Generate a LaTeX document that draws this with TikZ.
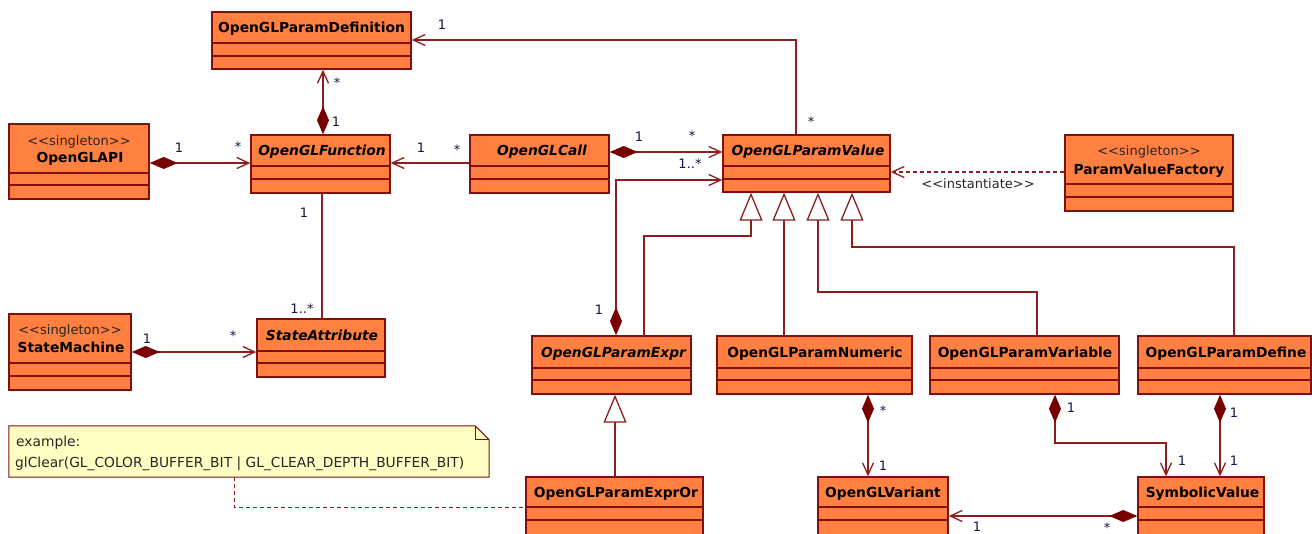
\documentclass[tikz,border=0pt]{standalone}
\usepackage{fontspec}
\setmainfont{DejaVu Sans}
\usetikzlibrary{arrows.meta,fit}

\definecolor{boxfill}{RGB}{255,128,64}
\definecolor{boxline}{RGB}{128,16,16}
\definecolor{wirec}{RGB}{140,30,30}
\definecolor{solidc}{RGB}{120,0,0}
\definecolor{notefill}{RGB}{255,255,196}
\definecolor{multc}{RGB}{20,20,70}

% guillemet-free stereotype brackets
\newcommand\lguil{\textless\kern0pt\textless}
\newcommand\rguil{\textgreater\kern0pt\textgreater}

\tikzset{
  classbox/.style={draw=boxline, fill=boxfill, line width=1.4pt, inner sep=0pt},
  sepline/.style={draw=boxline, line width=1.2pt},
  cname/.style={anchor=base, inner sep=0pt, font=\fontsize{13.8}{16}\selectfont\bfseries},
  aname/.style={anchor=base, inner sep=0pt, font=\fontsize{13.8}{16}\selectfont\bfseries\itshape},
  stereo/.style={anchor=base, inner sep=0pt, font=\fontsize{13}{15}\selectfont, text=black!85},
  mult/.style={anchor=base, inner sep=0pt, font=\fontsize{13}{15}\selectfont, text=multc},
  notetext/.style={anchor=base west, inner sep=0pt, font=\fontsize{13.8}{15}\selectfont, text=black!85},
  wire/.style={draw=wirec, line width=1.3pt},
  nav/.style={wire, -{Straight Barb[length=12pt,width=11pt]}},
  comp/.style={wire, {Diamond[length=28pt,width=12pt,fill=solidc,color=solidc]}-{Straight Barb[length=12pt,width=11pt]}},
  gen/.style={wire, -{Triangle[length=28pt,width=23pt,fill=white]}},
  dep/.style={wire, dash pattern=on 4pt off 3pt, -{Straight Barb[length=12pt,width=11pt]}},
}

% three-compartment class box: name, x1, y1, x2, y2, separator 1, separator 2
\newcommand\umlclass[7]{%
  \node[classbox, fit={(#2,#3) (#4,#5)}] (#1) {};
  \draw[sepline] (#1.west |- 0,#6) -- (#1.east |- 0,#6);
  \draw[sepline] (#1.west |- 0,#7) -- (#1.east |- 0,#7);
}

\begin{document}
\begin{tikzpicture}[x=1pt,y=-1pt]
\useasboundingbox (0,0) rectangle (1312,533);
\fill[white] (0,0) rectangle (1312,533);
\clip (0,0) rectangle (1312,533);

% classes
\umlclass{def}{212}{12}{411}{69}{43}{56}
\node[cname] (def-n) at (311.5,32.5) {OpenGLParamDefinition};

\umlclass{api}{9}{124}{149}{199}{173}{185}
\node[stereo] (api-s) at (79,145.5) {\lguil singleton\rguil};
\node[cname] (api-n) at (80,162.5) {OpenGLAPI};

\umlclass{fn}{251}{135}{390}{193}{166}{179}
\node[aname] (fn-n) at (322,155.5) {OpenGLFunction};

\umlclass{call}{470}{135}{609}{193}{166}{179}
\node[aname] (call-n) at (542,155.5) {OpenGLCall};

\umlclass{pv}{723}{135}{890}{192}{166}{179}
\node[aname] (pv-n) at (808,155.5) {OpenGLParamValue};

\umlclass{fac}{1065}{135}{1233}{211}{184}{197}
\node[stereo] (fac-s) at (1149,155.5) {\lguil singleton\rguil};
\node[cname] (fac-n) at (1149,174) {ParamValueFactory};

\umlclass{sm}{9}{314}{131}{390}{363}{376}
\node[stereo] (sm-s) at (70,334) {\lguil singleton\rguil};
\node[cname] (sm-n) at (71,352.5) {StateMachine};

\umlclass{sa}{257}{319}{385}{377}{351}{363}
\node[aname] (sa-n) at (322,340) {StateAttribute};

\umlclass{expr}{532}{336}{691}{394}{368}{380}
\node[aname] (expr-n) at (613.5,357.5) {OpenGLParamExpr};

\umlclass{num}{717}{336}{912}{394}{368}{380}
\node[cname] (num-n) at (815,357) {OpenGLParamNumeric};

\umlclass{var}{930}{336}{1119}{394}{368}{380}
\node[cname] (var-n) at (1025,357) {OpenGLParamVariable};

\umlclass{dfn}{1138}{336}{1311}{394}{368}{380}
\node[cname] (dfn-n) at (1226,357) {OpenGLParamDefine};

\umlclass{exor}{526}{477}{703}{538}{507}{520}
\node[cname] (exor-n) at (616,497) {OpenGLParamExprOr};

\umlclass{vari}{818}{477}{948}{538}{507}{520}
\node[cname] (vari-n) at (883,497) {OpenGLVariant};

\umlclass{sym}{1138}{477}{1264}{538}{507}{520}
\node[cname] (sym-n) at (1202.5,497) {SymbolicValue};

% note
\node[inner sep=0pt, fit={(9,426) (489,477)}] (note) {};
\filldraw[draw=boxline, fill=notefill, line width=1pt]
  (note.north west) -- ([xshift=-14pt]note.north east) -- ([yshift=-14pt]note.north east)
  -- (note.south east) -- (note.south west) -- cycle;
\draw[draw=boxline, line width=1pt]
  ([xshift=-14pt]note.north east) -- ([xshift=-14pt,yshift=-14pt]note.north east)
  -- ([yshift=-14pt]note.north east);
\node[notetext] (note-a) at (16,446) {example:};
\node[notetext] (note-b) at (15,467.5) {glClear(GL\_COLOR\_BUFFER\_BIT | GL\_CLEAR\_DEPTH\_BUFFER\_BIT)};

% associations
\draw[comp] (fn.north -| 323,0) -- (def.south -| 323,0);
\node[mult] at (337,87.5) {*};
\node[mult] at (336,126) {1};

\draw[comp] (api.east |- 0,163) -- (fn.west |- 0,163);
\node[mult] at (179,152) {1};
\node[mult] at (238,151.5) {*};

\draw[nav] (call.west |- 0,163) -- (fn.east |- 0,163);
\node[mult] at (421,152) {1};
\node[mult] at (457,154.5) {*};

\draw[comp] (call.east |- 0,152) -- (pv.west |- 0,152);
\node[mult] at (639,141) {1};
\node[mult] at (692,140.5) {*};

\draw[nav] (pv.north -| 796,0) |- (def.east |- 0,40);
\node[mult] at (442,29) {1};
\node[mult] at (811,126.5) {*};

\draw[comp] (expr.north -| 616,0) |- (pv.west |- 0,180);
\node[mult] at (599,314) {1};
\node[mult] at (690,168) {1..*};

\draw[dep] (fac.west |- 0,172) -- (pv.east |- 0,172);
\node[stereo] (inst) at (978,188) {\lguil instantiate\rguil};

\draw[wire] (fn.south -| 322,0) -- (sa.north -| 322,0);
\node[mult] at (304,217) {1};
\node[mult] at (302,313) {1..*};

\draw[comp] (sm.east |- 0,352) -- (sa.west |- 0,352);
\node[mult] at (147,343) {1};
\node[mult] at (233,340.5) {*};

% generalizations
\draw[gen] (expr.north -| 644,0) -- (644,236) -| (pv.south -| 751,0);
\draw[gen] (num.north -| 784,0) -- (pv.south -| 784,0);
\draw[gen] (var.north -| 1037,0) -- (1037,292) -| (pv.south -| 818,0);
\draw[gen] (dfn.north -| 1234,0) -- (1234,247) -| (pv.south -| 852,0);
\draw[gen] (exor.north -| 615,0) -- (expr.south -| 615,0);

% lower compositions
\draw[comp] (num.south -| 868,0) -- (vari.north -| 868,0);
\node[mult] at (883,415.5) {*};
\node[mult] at (883,470) {1};

\draw[comp] (var.south -| 1055,0) -- (1055,443) -| (sym.north -| 1166,0);
\node[mult] at (1071,412) {1};
\node[mult] at (1182,465) {1};

\draw[comp] (dfn.south -| 1220,0) -- (sym.north -| 1220,0);
\node[mult] at (1234,417) {1};
\node[mult] at (1234,465) {1};

\draw[comp] (sym.west |- 0,516) -- (vari.east |- 0,516);
\node[mult] at (977,531.5) {1};
\node[mult] at (1107,532) {*};

% note anchor line
\draw[wire, line width=1pt, dash pattern=on 4pt off 3pt] (note.south -| 234,0) |- (exor.west |- 0,507);
\end{tikzpicture}
\end{document}
